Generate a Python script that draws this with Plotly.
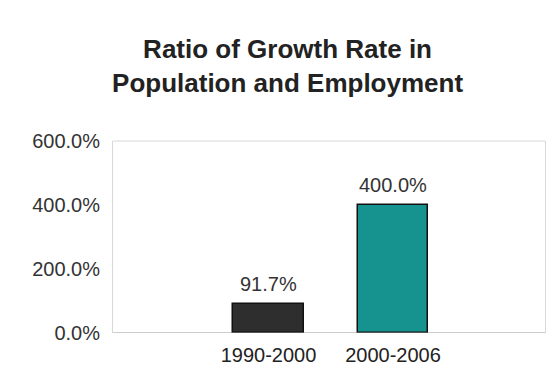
import plotly.graph_objects as go

categories = ["1990-2000", "2000-2006"]
values = [91.7, 400.0]
labels = ["91.7%", "400.0%"]
colors = ["#2e2e2e", "#16928f"]
tick_vals = [0, 200, 400, 600]
tick_text = ["0.0%", "200.0%", "400.0%", "600.0%"]

FONT = "Liberation Sans, Arial"

fig = go.Figure()
fig.add_trace(go.Bar(
    x=[0, 1], y=values, width=0.57,
    marker=dict(color=colors, line=dict(color="#111111", width=1.5)),
    hoverinfo="x+y",
))
for xi, v, lab in zip([0, 1], values, labels):
    fig.add_annotation(x=xi, y=v, text=lab, showarrow=False,
                       yanchor="bottom", xanchor="center", yshift=7,
                       font=dict(family=FONT, size=20, color="#333333"))
fig.update_layout(
    width=553, height=368,
    margin=dict(l=113, r=8, t=141, b=35, autoexpand=False),
    paper_bgcolor="white", plot_bgcolor="white",
    showlegend=False,
    title=dict(
        text="<b>Ratio of Growth Rate in<br>Population and Employment</b>",
        x=0.52, xanchor="center", y=0.842, yanchor="middle",
        font=dict(family=FONT, size=26, color="#222222"),
    ),
    xaxis=dict(
        range=[-1.249, 2.221], tickvals=[0, 1], ticktext=categories,
        showgrid=False, zeroline=False, showline=False, ticks="",
        tickfont=dict(family=FONT, size=20, color="#222222"),
        ticklabelstandoff=8, automargin=False,
    ),
    yaxis=dict(
        range=[0, 600], tickvals=tick_vals, ticktext=tick_text,
        showgrid=False, zeroline=False, showline=True, linecolor="#d8d8d8",
        linewidth=1, mirror=True, ticks="", ticklen=0,
        tickfont=dict(family=FONT, size=20, color="#333333"),
        ticklabelstandoff=8, automargin=False,
    ),
    bargap=0,
)
fig.add_shape(type="line", xref="paper", yref="paper", x0=0, x1=1, y0=1, y1=1,
              line=dict(color="#d8d8d8", width=1))
fig.add_shape(type="line", xref="paper", yref="y", x0=0, x1=1, y0=0, y1=0,
              line=dict(color="#9a9a9a", width=1))
fig.write_html("out.html")
